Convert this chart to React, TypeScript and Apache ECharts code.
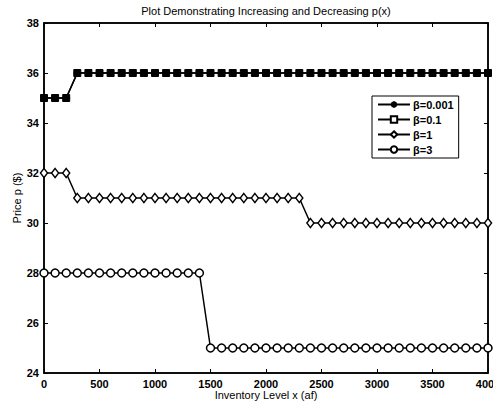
import React, { useEffect, useRef } from "react";
import * as echarts from "echarts";

const xs = [0, 100, 200, 300, 400, 500, 600, 700, 800, 900, 1000, 1100, 1200, 1300, 1400, 1500, 1600, 1700, 1800, 1900, 2000, 2100, 2200, 2300, 2400, 2500, 2600, 2700, 2800, 2900, 3000, 3100, 3200, 3300, 3400, 3500, 3600, 3700, 3800, 3900, 4000];
const beta0001 = [35, 35, 35, 36, 36, 36, 36, 36, 36, 36, 36, 36, 36, 36, 36, 36, 36, 36, 36, 36, 36, 36, 36, 36, 36, 36, 36, 36, 36, 36, 36, 36, 36, 36, 36, 36, 36, 36, 36, 36, 36];
const beta01 = [35, 35, 35, 36, 36, 36, 36, 36, 36, 36, 36, 36, 36, 36, 36, 36, 36, 36, 36, 36, 36, 36, 36, 36, 36, 36, 36, 36, 36, 36, 36, 36, 36, 36, 36, 36, 36, 36, 36, 36, 36];
const beta1 = [32, 32, 32, 31, 31, 31, 31, 31, 31, 31, 31, 31, 31, 31, 31, 31, 31, 31, 31, 31, 31, 31, 31, 31, 30, 30, 30, 30, 30, 30, 30, 30, 30, 30, 30, 30, 30, 30, 30, 30, 30];
const beta3 = [28, 28, 28, 28, 28, 28, 28, 28, 28, 28, 28, 28, 28, 28, 28, 25, 25, 25, 25, 25, 25, 25, 25, 25, 25, 25, 25, 25, 25, 25, 25, 25, 25, 25, 25, 25, 25, 25, 25, 25, 25];
const seriesNames = ["β=0.001", "β=0.1", "β=1", "β=3"];
const titleText = "Plot Demonstrating Increasing and Decreasing p(x)";
const xName = "Inventory Level x (af)";
const yName = "Price p ($)";

const FONT = "'Liberation Sans', Arial, sans-serif";
const ASTERISK = "path://M0,-5L0,5M-5,0L5,0M-3.6,-3.6L3.6,3.6M-3.6,3.6L3.6,-3.6";

export default function App() {
  const ref = useRef<HTMLDivElement>(null);
  useEffect(() => {
    const chart = echarts.init(ref.current!, null, { renderer: "svg" });
    const pair = (ys: number[]) => xs.map((x, i) => [x, ys[i]]);
    const baseX = {
      type: "value",
      min: 0,
      max: 4000,
      interval: 500,
      show: true,
      splitLine: { show: false },
      axisLine: { show: true, onZero: false, lineStyle: { color: "#000", width: 1.5 } },
      axisTick: { show: true, inside: true, length: 4, lineStyle: { color: "#000", width: 1 } },
    };
    const baseY = {
      type: "value",
      min: 24,
      max: 38,
      interval: 2,
      show: true,
      splitLine: { show: false },
      axisLine: { show: true, onZero: false, lineStyle: { color: "#000", width: 1.5 } },
      axisTick: { show: true, inside: true, length: 4, lineStyle: { color: "#000", width: 1 } },
    };
    const labelStyle = { color: "#000", fontSize: 11, fontWeight: "bold", fontFamily: FONT };
    const nameStyle = { fontSize: 11, fontFamily: FONT, fill: "#000", textAlign: "center", textVerticalAlign: "middle" };
    chart.setOption({
      animation: false,
      backgroundColor: "#fff",
      grid: {
        left: 44,
        right: 5,
        top: 23,
        bottom: 31,
        containLabel: false,
        outerBoundsMode: "none",
        show: true,
        borderColor: "#000",
        borderWidth: 1.5,
        backgroundColor: "transparent",
      },
      graphic: [
        { type: "text", x: 266, y: 11, style: { ...nameStyle, text: titleText } },
        { type: "text", x: 266, y: 395, style: { ...nameStyle, text: xName } },
        { type: "text", x: 17, y: 198, rotation: Math.PI / 2, style: { ...nameStyle, text: yName } },
      ],
      xAxis: [
        {
          ...baseX,
          position: "bottom",
          axisLabel: { ...labelStyle, margin: 5, formatter: (v: number) => String(v) },
        },
        { ...baseX, position: "top", axisLabel: { show: false } },
      ],
      yAxis: [
        {
          ...baseY,
          position: "left",
          axisLabel: { ...labelStyle, margin: 5, formatter: (v: number) => String(v) },
        },
        { ...baseY, position: "right", axisLabel: { show: false } },
      ],
      legend: {
        orient: "vertical",
        left: 372,
        top: 96,
        itemWidth: 32,
        itemHeight: 8,
        itemGap: 4,
        padding: [3, 5, 3, 5],
        borderColor: "#000",
        borderWidth: 1,
        backgroundColor: "#fff",
        textStyle: { color: "#000", fontSize: 11, fontWeight: "bold", fontFamily: FONT, padding: [0, 0, 0, -2] },
        data: [
          { name: seriesNames[0] },
          { name: seriesNames[1], itemStyle: { color: "#fff" } },
          { name: seriesNames[2] },
          { name: seriesNames[3] },
        ],
      },
      series: [
        {
          name: seriesNames[0],
          type: "line",
          data: pair(beta0001),
          symbol: ASTERISK,
          symbolSize: 8,
          lineStyle: { color: "#000", width: 1.5 },
          itemStyle: { color: "#000", borderColor: "#000", borderWidth: 1.2 },
        },
        {
          name: seriesNames[1],
          type: "line",
          data: pair(beta01),
          symbol: "rect",
          symbolSize: 7,
          lineStyle: { color: "#000", width: 1.5 },
          itemStyle: { color: "#000", borderColor: "#000", borderWidth: 1 },
        },
        {
          name: seriesNames[2],
          type: "line",
          data: pair(beta1),
          symbol: "diamond",
          symbolSize: [7, 9],
          lineStyle: { color: "#000", width: 1.5 },
          itemStyle: { color: "#fff", borderColor: "#000", borderWidth: 1.5 },
        },
        {
          name: seriesNames[3],
          type: "line",
          data: pair(beta3),
          symbol: "circle",
          symbolSize: 8,
          lineStyle: { color: "#000", width: 1.5 },
          itemStyle: { color: "#fff", borderColor: "#000", borderWidth: 1.5 },
        },
      ],
    });
    return () => chart.dispose();
  }, []);
  return <div ref={ref} style={{ position: "absolute", left: 0, top: 0, width: 493, height: 404 }} />;
}
